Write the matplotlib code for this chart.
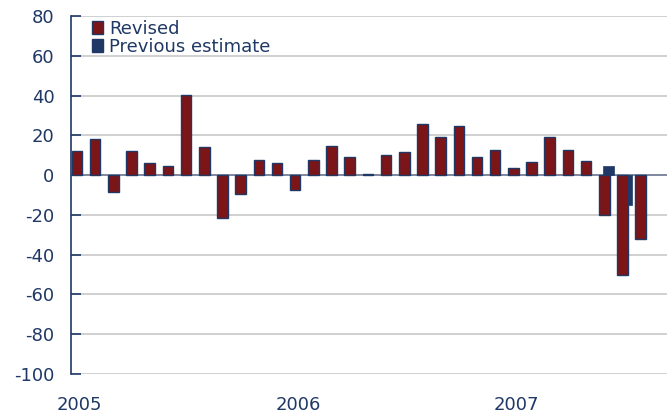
import matplotlib
matplotlib.use("Agg")
import matplotlib.pyplot as plt
from matplotlib.patches import Patch
import numpy as np

months = [f"{y}-{m:02d}" for y in (2005, 2006, 2007) for m in range(1, 13)][:32]
revised = [12, 18, -8.5, 12, 6, 4.5, 40.5, 14, -21.5, -9.5, 7.5, 6,
           -7.5, 7.5, 14.5, 9, 0.7, 10, 11.5, 25.5, 19.3, 24.5, 9.2, 12.4,
           3.4, 6.5, 19.3, 12.4, 7.2, -20, -50, -32]
# previous estimates only where they differ visibly from the revision
previous = [np.nan] * 29 + [4.5, -15, np.nan]
year_labels = ["2005", "2006", "2007"]
y_ticks = list(range(-100, 81, 20))

RED = "#7B1518"
NAVY = "#1F3865"
TXT = "#1F3865"
FS = 13

fig = plt.figure(figsize=(6.67, 4.15), dpi=100)
ax = fig.add_axes([71/667, 1-374/415, 1-71/667, (374-16)/415])

x = np.arange(len(months))
ax.bar(x + 0.25, previous, width=0.6, color=NAVY, edgecolor=NAVY, linewidth=0.5, zorder=3)
ax.bar(x, revised, width=0.58, color=RED, edgecolor=NAVY, linewidth=1.0, zorder=4)

ax.set_ylim(-100, 80)
ax.set_xlim(-0.33, 32.45)
ax.set_yticks(y_ticks)
ax.set_yticklabels([str(v) for v in y_ticks], fontsize=FS, color=TXT)
for v in y_ticks:
    ax.axhline(v, color="#c8c8c8", linewidth=1.2, zorder=1)
ax.axhline(0, color="#7f89a0", linewidth=1.4, zorder=2)

ax.set_xticks([0.15, 12.15, 24.15])
ax.set_xticklabels(year_labels, fontsize=FS, color=TXT)
ax.tick_params(axis="x", length=0, pad=16)
ax.tick_params(axis="y", direction="in", length=7, width=1.2, color=NAVY, pad=12)

for s in ("top", "right", "bottom"):
    ax.spines[s].set_visible(False)
ax.spines["left"].set_color(NAVY)
ax.spines["left"].set_linewidth(1.2)

handles = [Patch(facecolor=RED, edgecolor=NAVY, label="Revised"),
           Patch(facecolor=NAVY, edgecolor=NAVY, label="Previous estimate")]
leg = ax.legend(handles=handles, loc="upper left", bbox_to_anchor=(79/667, 1-7/415),
                bbox_transform=fig.transFigure, frameon=False, fontsize=FS,
                handlelength=0.65, handleheight=0.7, handletextpad=0.3,
                labelspacing=0.0, borderpad=0.2)
for t in leg.get_texts():
    t.set_color(TXT)

fig.savefig("out.png", dpi=100)
